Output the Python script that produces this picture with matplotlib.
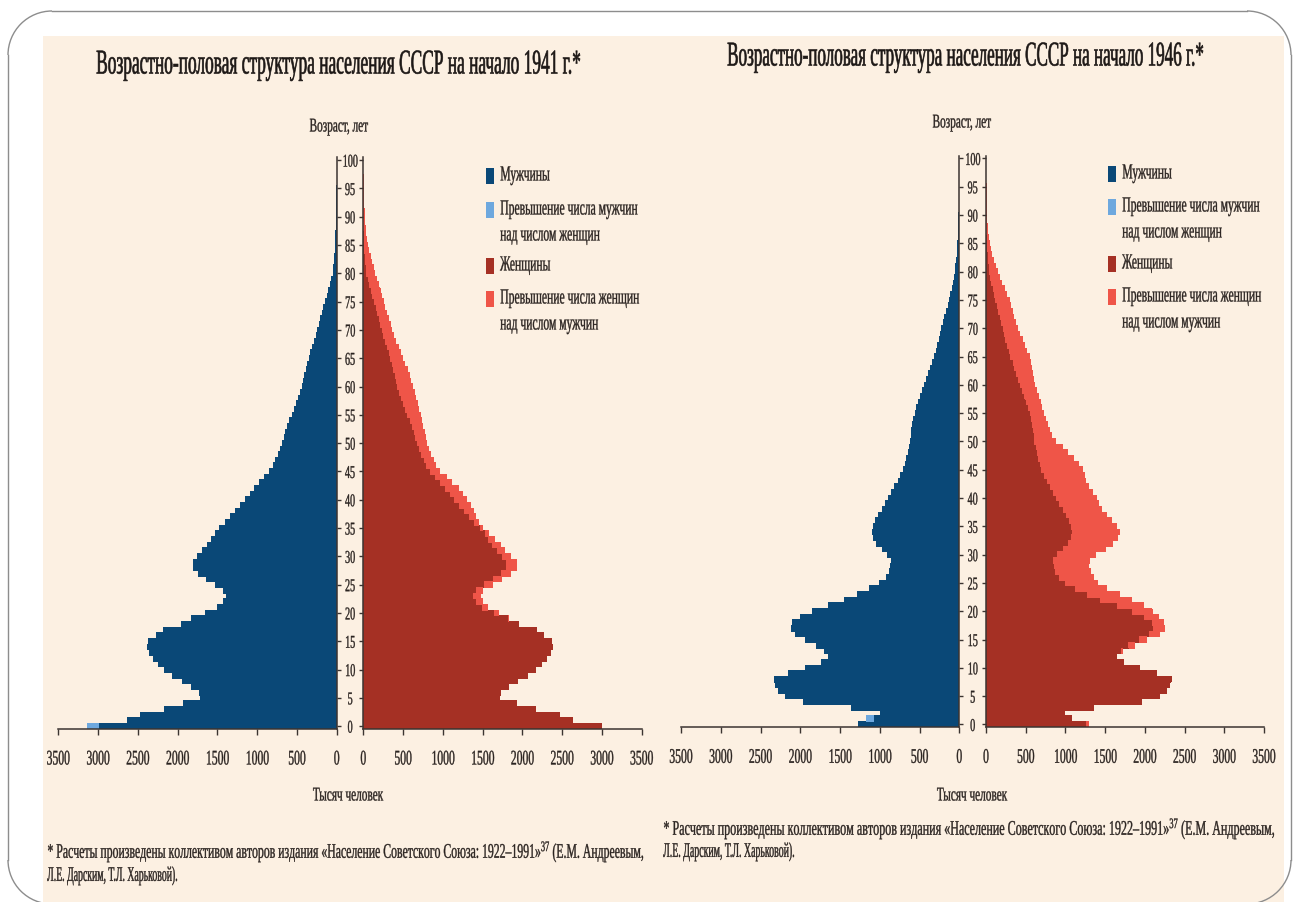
import numpy as np
import matplotlib
matplotlib.use("Agg")
import matplotlib.pyplot as plt
from matplotlib.patches import Rectangle, Arc
from matplotlib.lines import Line2D
from matplotlib.patheffects import AbstractPathEffect
from matplotlib.transforms import Affine2D, Bbox
from matplotlib.text import Text

# ---------------- data (thousand persons, single years of age 0..100) ----------------
AGES = list(range(101))

MALE_1941 = [3130, 2630, 2470, 2170, 1930, 1715, 1730, 1820, 1940, 2070,
             2160, 2240, 2300, 2350, 2380, 2365, 2270, 2180, 1950, 1820,
             1650, 1500, 1420, 1390, 1420, 1520, 1640, 1740, 1800, 1800,
             1750, 1690, 1630, 1580, 1530, 1470, 1400, 1330, 1270, 1210,
             1150, 1090, 1030, 970, 910, 850, 800, 765, 735, 710,
             680, 660, 640, 615, 590, 560, 535, 510, 480, 455,
             435, 420, 400, 385, 365, 345, 325, 300, 280, 260,
             240, 220, 200, 180, 160, 140, 120, 100, 80, 60,
             45, 38, 32, 26, 20, 16, 12, 9, 7, 5,
             4, 3, 2, 2, 1, 1, 0, 0, 0, 0, 0]

FEMALE_1941 = [3000, 2630, 2470, 2170, 1930, 1715, 1730, 1820, 1940, 2070,
               2160, 2240, 2300, 2350, 2380, 2365, 2270, 2180, 1950, 1830,
               1700, 1560, 1500, 1470, 1500, 1620, 1740, 1850, 1930, 1920,
               1850, 1780, 1720, 1650, 1580, 1500, 1450, 1410, 1380, 1350,
               1300, 1250, 1200, 1110, 1040, 960, 910, 880, 850, 825,
               800, 785, 770, 750, 735, 715, 700, 680, 660, 640,
               615, 595, 575, 550, 520, 490, 465, 440, 410, 385,
               360, 340, 315, 295, 270, 250, 230, 210, 190, 165,
               145, 125, 105, 85, 70, 55, 42, 32, 24, 17,
               12, 9, 6, 4, 3, 2, 1, 1, 0, 0, 0]

MALE_1946 = [1270, 1165, 990, 1350, 1960, 2190, 2270, 2310, 2330, 2150,
             1930, 1730, 1640, 1700, 1800, 1930, 2060, 2110, 2100, 2000,
             1840, 1650, 1440, 1280, 1130, 1000, 920, 880, 860, 850,
             900, 970, 1040, 1080, 1090, 1080, 1050, 1010, 970, 930,
             890, 850, 810, 770, 735, 700, 680, 660, 645, 630,
             615, 605, 595, 585, 570, 555, 535, 515, 490, 465,
             440, 410, 385, 360, 340, 310, 290, 270, 250, 235,
             220, 200, 180, 160, 140, 120, 105, 90, 75, 62,
             50, 42, 35, 28, 22, 17, 13, 10, 7, 5,
             4, 3, 2, 1, 1, 0, 0, 0, 0, 0, 0]

FEMALE_1946 = [1290, 1080, 990, 1350, 1960, 2190, 2270, 2310, 2330, 2150,
               1930, 1730, 1640, 1720, 1870, 2020, 2180, 2250, 2230, 2170,
               2090, 1980, 1830, 1680, 1520, 1410, 1350, 1310, 1290, 1300,
               1380, 1500, 1590, 1660, 1680, 1640, 1580, 1520, 1460, 1420,
               1390, 1340, 1290, 1250, 1235, 1220, 1160, 1100, 1030, 960,
               880, 830, 800, 770, 745, 725, 705, 685, 665, 640,
               615, 600, 585, 570, 560, 545, 515, 485, 455, 425,
               395, 375, 350, 330, 310, 290, 260, 230, 200, 170,
               140, 115, 95, 75, 55, 40, 30, 22, 16, 11,
               8, 6, 4, 3, 2, 1, 0, 0, 0, 0, 0]

X_TICKS = [0, 500, 1000, 1500, 2000, 2500, 3000, 3500]
Y_TICKS = list(range(0, 101, 5))

TITLES = ["Возрастно-половая структура населения СССР на начало 1941 г.*",
          "Возрастно-половая структура населения СССР на начало 1946 г.*"]
Y_LABEL = "Возраст, лет"
X_LABEL = "Тысяч человек"
LEGEND_LABELS = ["Мужчины",
                 "Превышение числа мужчин\nнад числом женщин",
                 "Женщины",
                 "Превышение числа женщин\nнад числом мужчин"]
FOOTNOTE_1 = "* Расчеты произведены коллективом авторов издания «Население Советского Союза: 1922–1991»$^{37}$ (Е.М. Андреевым,"
FOOTNOTE_2 = "Л.Е. Дарским, Т.Л. Харьковой)."

# ---------------- style ----------------
W, H = 1299, 903
FONT = ['Liberation Serif', 'DejaVu Serif']
plt.rcParams['font.family'] = FONT
plt.rcParams['mathtext.fontset'] = 'custom'
plt.rcParams['mathtext.rm'] = 'Liberation Serif'
plt.rcParams['mathtext.it'] = 'Liberation Serif:italic'
plt.rcParams['mathtext.bf'] = 'Liberation Serif:bold'

CREAM = '#fcf0e2'
BLUE = '#0a4877'
LBLUE = '#6ea8de'
DRED = '#a53024'
RED = '#ef5548'
TXT = '#2a2320'
AXC = '#3b3431'
BORDER = '#8d8d8d'


class Condense(AbstractPathEffect):
    """Draw text glyphs horizontally condensed (narrow typeface look)."""
    def __init__(self, sx=0.6, anchor='center', stroke=0.0):
        super().__init__()
        self._sx = sx
        self._anchor = anchor
        self._stroke = stroke

    def draw_path(self, renderer, gc, tpath, affine, rgbFace=None):
        ext = tpath.get_extents()
        if self._anchor == 'left':
            x0 = ext.x0
        elif self._anchor == 'right':
            x0 = ext.x1
        else:
            x0 = 0.5 * (ext.x0 + ext.x1)
        tr = Affine2D().translate(-x0, 0).scale(self._sx, 1.0).translate(x0, 0) + affine
        if self._stroke > 0:
            gc0 = renderer.new_gc()
            gc0.copy_properties(gc)
            gc0.set_linewidth(self._stroke)
            gc0.set_joinstyle('round')
            renderer.draw_path(gc0, tpath, tr, rgbFace)
            gc0.restore()
        else:
            renderer.draw_path(gc, tpath, tr, rgbFace)


class CText(Text):
    """Text whose reported extent matches its condensed drawing."""
    def __init__(self, *args, sx=0.6, **kwargs):
        super().__init__(*args, **kwargs)
        self._sx = sx

    def natural_extent(self, renderer):
        return Text.get_window_extent(self, renderer)

    def get_window_extent(self, renderer=None, dpi=None):
        bb = Text.get_window_extent(self, renderer, dpi)
        w = bb.width * self._sx
        ha = self.get_horizontalalignment()
        if ha == 'left':
            x0 = bb.x0
        elif ha == 'right':
            x0 = bb.x1 - w
        else:
            x0 = 0.5 * (bb.x0 + bb.x1) - 0.5 * w
        return Bbox.from_extents(x0, bb.y0, x0 + w, bb.y1)


fig = plt.figure(figsize=(W / 100, H / 100), dpi=100)
fig.patch.set_facecolor('white')
renderer = fig.canvas.get_renderer()

bg = fig.add_axes([0, 0, 1, 1])
bg.set_xlim(0, W)
bg.set_ylim(H, 0)
bg.axis('off')
bg.add_patch(Rectangle((43, 37), 1241, H - 37 + 5, fc=CREAM, ec='none', zorder=1))

# slide frame: rounded rectangle outline (x 8..1291, y 12..905)
R = 44
BX0, BX1, BY0, BY1 = 8, 1291, 12, 905
for (xa, ya, xb, yb) in [(BX0 + R, BY0, BX1 - R, BY0), (BX0, BY0 + R, BX0, BY1 - R),
                         (BX1, BY0 + R, BX1, BY1 - R), (BX0 + R, BY1, BX1 - R, BY1)]:
    bg.add_line(Line2D([xa, xb], [ya, yb], color=BORDER, lw=1.0, zorder=2))
for (cx, cy, t1, t2) in [(BX0 + R, BY0 + R, 180, 270), (BX1 - R, BY0 + R, 270, 360),
                         (BX0 + R, BY1 - R, 90, 180), (BX1 - R, BY1 - R, 0, 90)]:
    bg.add_patch(Arc((cx, cy), 2 * R, 2 * R, theta1=t1, theta2=t2, color=BORDER, lw=1.0, zorder=2))


def ctext(x, y, s, size, ha='center', sx=0.6, width=None, color=TXT, va='center', stroke=0.25):
    t = CText(x, y, s, fontsize=size, ha=ha, va=va, color=color, zorder=5)
    bg.add_artist(t)
    if width is not None:
        sx = width / t.natural_extent(renderer).width
    t._sx = sx
    t.set_path_effects([Condense(sx, ha, stroke)])
    return t


def make_axes(x0, x1, ybot):
    ytop = ybot - 101 * 5.66
    return fig.add_axes([x0 / W, 1 - ybot / H, (x1 - x0) / W, (ybot - ytop) / H])


def draw_pyramid(axm, axf, male, female):
    ages = np.array(AGES)
    m = np.array(male, float)
    f = np.array(female, float)
    common = np.minimum(m, f)

    def bars(ax, y, w, left, col):
        ax.barh(y, w, left=left, height=1.0, align='center', color=col,
                linewidth=0, snap=False, antialiased=False)

    sel = common > 0
    bars(axm, ages[sel], common[sel], 0, BLUE)
    bars(axf, ages[sel], common[sel], 0, DRED)
    exm = m - f
    sel = exm > 0
    bars(axm, ages[sel], exm[sel], f[sel], LBLUE)
    exf = f - m
    sel = exf > 0
    bars(axf, ages[sel], exf[sel], m[sel], RED)

    for ax in (axm, axf):
        ax.set_facecolor('none')
        ax.set_ylim(-0.5, 100.5)
        ax.spines['top'].set_visible(False)
        for sp in ax.spines.values():
            sp.set_color(AXC)
            sp.set_linewidth(1.1)
            sp.set_zorder(3)
        ax.set_xticks(X_TICKS)
        ax.set_xticklabels([str(v) for v in X_TICKS])
        ax.tick_params(axis='x', direction='out', length=4.5, width=1.0, color=AXC,
                       labelsize=15, labelcolor=TXT, pad=11)
        ax.set_yticks(Y_TICKS)
    axm.set_xlim(3500, 0)
    axf.set_xlim(0, 3500)
    axm.spines['left'].set_visible(False)
    axf.spines['right'].set_visible(False)
    axm.yaxis.tick_right()
    axm.set_yticklabels([str(v) for v in Y_TICKS])
    axm.tick_params(axis='y', direction='out', length=3, width=1.0, color=AXC,
                    labelsize=13, labelcolor=TXT, pad=6.6)
    for lab in axm.get_yticklabels():
        lab.set_horizontalalignment('center')
    axf.set_yticklabels([])
    axf.tick_params(axis='y', direction='out', length=3, width=1.0, color=AXC, left=True)


CHARTS = [
    dict(male=MALE_1941, female=FEMALE_1941, xm=(58.3, 336.7), xf=(363.3, 641.7), ybot=730,
         title=(340, 66, 486), ylab=(339, 128), xlab=(348, 797), leg_x=486,
         leg_y=[177, 211, 267, 300], foot=(47, 853, 877, 598, 131)),
    dict(male=MALE_1946, female=FEMALE_1946, xm=(681, 959.3), xf=(986, 1264), ybot=728.3,
         title=(967, 58, 478), ylab=(962, 124), xlab=(972, 797), leg_x=1108,
         leg_y=[175, 208, 265, 298], foot=(663, 830, 853, 613, 132)),
]
LEG_COLORS = [BLUE, LBLUE, DRED, RED]

axes_list = []
for i, c in enumerate(CHARTS):
    axm = make_axes(c['xm'][0], c['xm'][1], c['ybot'])
    axf = make_axes(c['xf'][0], c['xf'][1], c['ybot'])
    draw_pyramid(axm, axf, c['male'], c['female'])
    axes_list.append((axm, axf))

    tx, ty, tw = c['title']
    ctext(tx, ty, TITLES[i], 25, width=tw, color='#1d1816', stroke=0.45)
    ctext(c['ylab'][0], c['ylab'][1], Y_LABEL, 14, sx=0.58)
    ctext(c['xlab'][0], c['xlab'][1], X_LABEL, 14, sx=0.58)

    lx = c['leg_x']
    for lab, col, ly in zip(LEGEND_LABELS, LEG_COLORS, c['leg_y']):
        bg.add_patch(Rectangle((lx, ly - 8), 8.5, 16, fc=col, ec='none', zorder=5))
        for k, line in enumerate(lab.split('\n')):
            ctext(lx + 14, ly + k * 26, line, 15.5, ha='left', sx=0.54)

    fx, fy1, fy2, fw1, fw2 = c['foot']
    ctext(fx, fy1, FOOTNOTE_1, 15, ha='left', width=fw1)
    ctext(fx, fy2, FOOTNOTE_2, 15, ha='left', width=fw2)

fig.canvas.draw()
for axm, axf in axes_list:
    for ax in (axm, axf):
        for lab in ax.get_xticklabels():
            lab.set_path_effects([Condense(0.56, 'center', 0.25)])
    for lab in axm.get_yticklabels():
        lab.set_path_effects([Condense(0.56, 'center', 0.25)])

fig.savefig('out.png', dpi=100, facecolor='white')
